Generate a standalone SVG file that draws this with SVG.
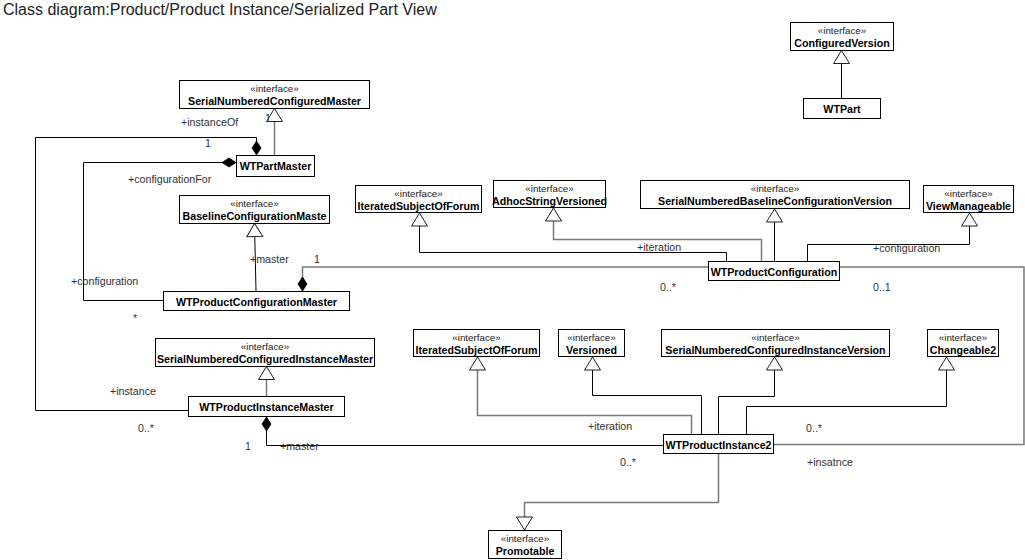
<svg xmlns="http://www.w3.org/2000/svg" width="1025" height="560" viewBox="0 0 1025 560">
<style>
text{font-family:"Liberation Sans",Arial,sans-serif}
.title{font-size:16px;fill:#222}
.st{font-size:9.8px;fill:#222;text-anchor:middle}
.nm{font-size:10.67px;font-weight:bold;fill:#000;text-anchor:middle}
.lb{font-size:10.67px;fill:#333}
.box{fill:#fff;stroke:#000;stroke-width:1}
.c{fill:none;stroke:#000;stroke-width:1}
.g{fill:none;stroke:#7a7a7a;stroke-width:1.5}
.gen{marker-end:url(#tri)}
.comp{marker-start:url(#dia)}
</style>
<defs>
<marker id="tri" markerUnits="userSpaceOnUse" viewBox="-1 -9 15 18" markerWidth="15" markerHeight="18" refX="13" refY="0" orient="auto">
<path d="M13 0 L0 -8 L0 8 Z" fill="#fff" stroke="#222" stroke-width="1"/>
</marker>
<marker id="dia" markerUnits="userSpaceOnUse" viewBox="-1 -6 16 12" markerWidth="16" markerHeight="12" refX="0" refY="0" orient="auto">
<path d="M0 0 L7 -4.5 L14 0 L7 4.5 Z" fill="#000" stroke="#000" stroke-width="0.8"/>
</marker>
</defs>
<text class="title" x="3" y="15">Class diagram:Product/Product Instance/Serialized Part View</text>

<g id="connectors">
<path class="c gen" d="M841.5 98 V50.5"/>
<path class="g gen" d="M274.5 155 V108.5"/>
<path class="c gen" d="M256 291 L254.5 223.5"/>
<path class="g gen" d="M266.5 396 V366.5"/>
<path class="c comp" d="M256.5 155 V137.5 H35.5 V410.5 H188"/>
<path class="c comp" d="M236 162.5 H83.5 V300.5 H163"/>
<path class="g comp" d="M302.5 291 V267 H708"/>
<path class="c comp" d="M266.5 417 V445.5 H663"/>
<path class="g" d="M839.5 267 H1024 V444.5 H773.5"/>
<path class="c gen" d="M726.5 261 V252.5 H419.5 V213"/>
<path class="g gen" d="M761.5 261 V239.5 H553.5 V208"/>
<path class="c gen" d="M774.5 261 V209"/>
<path class="c gen" d="M807.5 261 V244.5 H969.5 V213"/>
<path class="g gen" d="M691.5 434 V415.5 H477.5 V357"/>
<path class="c gen" d="M701.5 434 V395.5 H592.5 V357"/>
<path class="c gen" d="M718.5 434 V396.5 H774.5 V357"/>
<path class="c gen" d="M746.5 434 V406.5 H946.5 V357"/>
<path class="g gen" d="M718.5 454 V502.5 H524.5 V530"/>
</g>

<g id="labels">
<text class="lb" x="181" y="126">+instanceOf</text>
<text class="lb" x="265" y="122">1</text>
<text class="lb" x="205" y="147">1</text>
<text class="lb" x="128" y="183">+configurationFor</text>
<text class="lb" x="71" y="285">+configuration</text>
<text class="lb" x="133" y="322">*</text>
<text class="lb" x="250" y="263">+master</text>
<text class="lb" x="314" y="263">1</text>
<text class="lb" x="637" y="251">+iteration</text>
<text class="lb" x="873" y="252">+configuration</text>
<text class="lb" x="660" y="291">0..*</text>
<text class="lb" x="873" y="291">0..1</text>
<text class="lb" x="110" y="395">+instance</text>
<text class="lb" x="138" y="432">0..*</text>
<text class="lb" x="245" y="450">1</text>
<text class="lb" x="280" y="450">+master</text>
<text class="lb" x="588" y="430">+iteration</text>
<text class="lb" x="806" y="432">0..*</text>
<text class="lb" x="807" y="466">+insatnce</text>
<text class="lb" x="620" y="466">0..*</text>
</g>

<g id="ConfiguredVersion"><rect class="box" x="790.5" y="22.5" width="103" height="28"/><text class="st" x="842" y="33.5">«interface»</text><text class="nm" x="842" y="46.5">ConfiguredVersion</text></g>
<g id="WTPart"><rect class="box" x="803.5" y="98.5" width="77" height="20"/><text class="nm" x="842" y="113">WTPart</text></g>
<g id="SerialNumberedConfiguredMaster"><rect class="box" x="179.5" y="80.5" width="190" height="28"/><text class="st" x="274.5" y="91.5">«interface»</text><text class="nm" x="274.5" y="105">SerialNumberedConfiguredMaster</text></g>
<g id="WTPartMaster"><rect class="box" x="236.5" y="155.5" width="78" height="21"/><text class="nm" x="275.5" y="170">WTPartMaster</text></g>
<g id="BaselineConfigurationMaste"><rect class="box" x="179.5" y="195.5" width="150" height="28"/><text class="st" x="254.5" y="206.5">«interface»</text><text class="nm" x="254.5" y="220">BaselineConfigurationMaste</text></g>
<g id="WTProductConfigurationMaster"><rect class="box" x="163.5" y="291.5" width="186" height="19"/><text class="nm" x="256.5" y="305.5">WTProductConfigurationMaster</text></g>
<g id="IteratedSubjectOfForum1"><rect class="box" x="355.5" y="185.5" width="126" height="27"/><text class="st" x="418.5" y="196.5">«interface»</text><text class="nm" x="418.5" y="209.5">IteratedSubjectOfForum</text></g>
<g id="AdhocStringVersioned"><rect class="box" x="493.5" y="180.5" width="112" height="27"/><text class="st" x="549.5" y="191.5">«interface»</text><text class="nm" x="549.5" y="204.5">AdhocStringVersioned</text></g>
<g id="SerialNumberedBaselineConfigurationVersion"><rect class="box" x="640.5" y="180.5" width="269" height="28"/><text class="st" x="775" y="191.5">«interface»</text><text class="nm" x="775" y="205">SerialNumberedBaselineConfigurationVersion</text></g>
<g id="ViewManageable"><rect class="box" x="923.5" y="185.5" width="90" height="27"/><text class="st" x="968.5" y="196.5">«interface»</text><text class="nm" x="968.5" y="209.5">ViewManageable</text></g>
<g id="WTProductConfiguration"><rect class="box" x="708.5" y="261.5" width="131" height="19"/><text class="nm" x="774" y="275.5">WTProductConfiguration</text></g>
<g id="SerialNumberedConfiguredInstanceMaster"><rect class="box" x="155.5" y="338.5" width="219" height="28"/><text class="st" x="265" y="349.5">«interface»</text><text class="nm" x="265" y="363">SerialNumberedConfiguredInstanceMaster</text></g>
<g id="WTProductInstanceMaster"><rect class="box" x="188.5" y="396.5" width="156" height="20"/><text class="nm" x="266.5" y="411">WTProductInstanceMaster</text></g>
<g id="IteratedSubjectOfForum2"><rect class="box" x="413.5" y="329.5" width="126" height="27"/><text class="st" x="476.5" y="340.5">«interface»</text><text class="nm" x="476.5" y="353.5">IteratedSubjectOfForum</text></g>
<g id="Versioned"><rect class="box" x="558.5" y="329.5" width="66" height="27"/><text class="st" x="591.5" y="340.5">«interface»</text><text class="nm" x="591.5" y="353.5">Versioned</text></g>
<g id="SerialNumberedConfiguredInstanceVersion"><rect class="box" x="661.5" y="329.5" width="228" height="27"/><text class="st" x="775.5" y="340.5">«interface»</text><text class="nm" x="775.5" y="353.5">SerialNumberedConfiguredInstanceVersion</text></g>
<g id="Changeable2"><rect class="box" x="927.5" y="329.5" width="71" height="27"/><text class="st" x="963" y="340.5">«interface»</text><text class="nm" x="963" y="353.5">Changeable2</text></g>
<g id="WTProductInstance2"><rect class="box" x="663.5" y="434.5" width="110" height="19"/><text class="nm" x="718.5" y="448.5">WTProductInstance2</text></g>
<g id="Promotable"><rect class="box" x="488.5" y="530.5" width="73" height="28"/><text class="st" x="525" y="541.5">«interface»</text><text class="nm" x="525" y="555">Promotable</text></g>
</svg>
